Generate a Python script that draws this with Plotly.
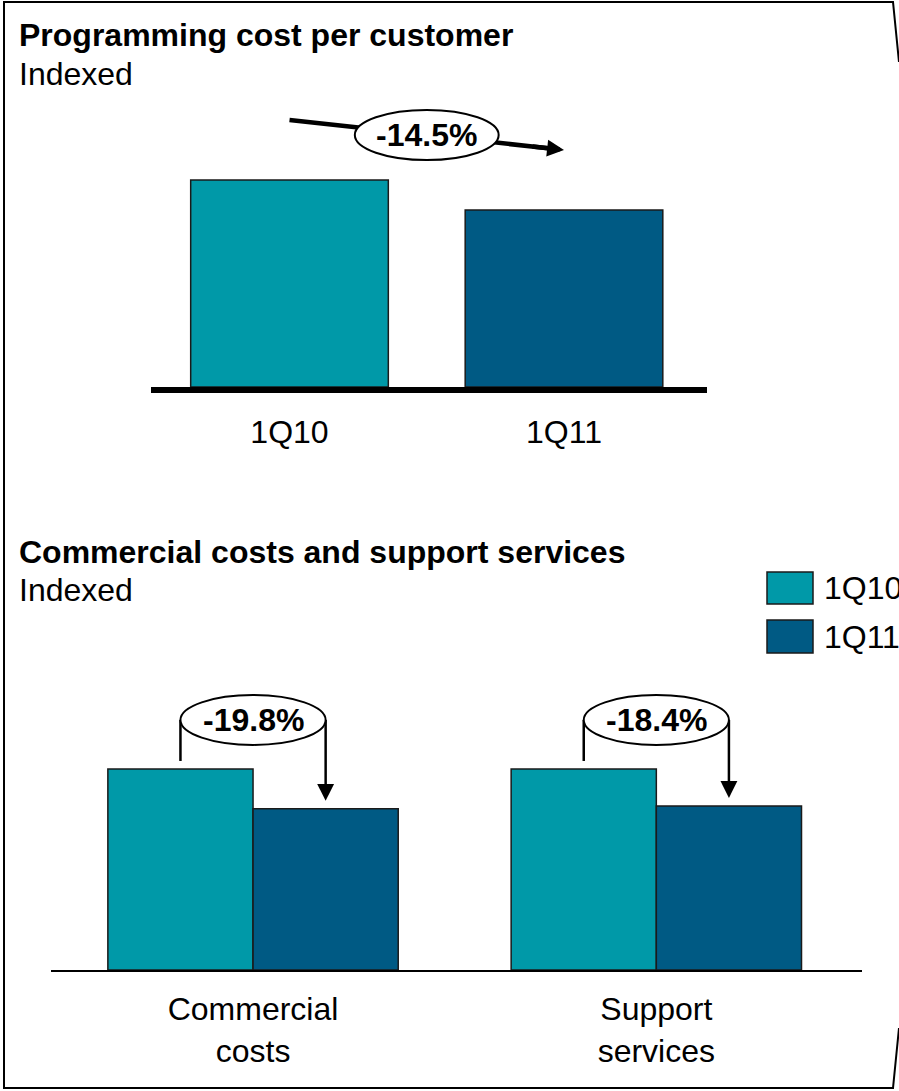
import plotly.graph_objects as go

# ---- data -------------------------------------------------------------
top_categories = ["1Q10", "1Q11"]
top_values = [100.0, 85.5]
top_change = "-14.5%"

groups = ["Commercial<br>costs", "Support<br>services"]
series_names = ["1Q10", "1Q11"]
q10_values = [100.0, 100.0]
q11_values = [80.2, 81.6]
group_changes = ["-19.8%", "-18.4%"]

# ---- styling ------------------------------------------------------------
W, H = 899, 1091
TEAL = "#0099A8"
NAVY = "#005A84"
EDGE = "#1a1a1a"
FONT = "Liberation Sans, Arial, sans-serif"
FS = 32


def px(x):
    return x / W


def py(y):
    return 1 - y / H


fig = go.Figure()

# top panel: single series, one colour per bar
fig.add_trace(go.Bar(
    x=top_categories, y=top_values, xaxis="x", yaxis="y",
    marker=dict(color=[TEAL, NAVY], line=dict(color=EDGE, width=1.5)),
    showlegend=False, hoverinfo="skip",
))

# bottom panel: grouped bars
for name, vals, col in [(series_names[0], q10_values, TEAL),
                        (series_names[1], q11_values, NAVY)]:
    fig.add_trace(go.Bar(
        x=groups, y=vals, name=name, xaxis="x2", yaxis="y2",
        marker=dict(color=col, line=dict(color=EDGE, width=1.5)),
        showlegend=False, hoverinfo="skip",
    ))

BARGAP = 0.28
half_bar = (1 - BARGAP) / 4  # centre offset of each bar inside a group

shapes = []
annotations = []

# outer frame with the bulging right edge
frame = [(899, 62), (893, 2), (4, 2), (4, 1088), (893, 1088), (899, 1028)]
path = "M " + " L ".join(f"{px(x):.5f},{py(y):.5f}" for x, y in frame)
shapes.append(dict(type="path", path=path, xref="paper", yref="paper",
                   line=dict(color="black", width=2)))

# top panel: trend arrow behind the change bubble
lift = 29
y_start = top_values[0] + lift
y_end = top_values[1] + lift
slope = y_end - y_start
shapes.append(dict(type="line", xref="x", yref="y", x0=0, y0=y_start,
                   x1=0.95, y1=y_start + 0.95 * slope,
                   line=dict(color="black", width=4.5), layer="above"))
annotations.append(dict(xref="x", yref="y", axref="x", ayref="y",
                        x=1, y=y_end, ax=0.88, ay=y_start + 0.88 * slope,
                        text="", showarrow=True, arrowhead=2, arrowsize=0.75,
                        arrowwidth=4.5, arrowcolor="black"))
mid_y = (y_start + y_end) / 2
shapes.append(dict(type="circle", xref="x", yref="y",
                   x0=0.5 - 0.262, x1=0.5 + 0.262,
                   y0=mid_y - 12.1, y1=mid_y + 12.1,
                   fillcolor="white", line=dict(color="black", width=2),
                   layer="above"))
annotations.append(dict(xref="x", yref="y", x=0.5, y=mid_y, text=f"<b>{top_change}</b>",
                        showarrow=False, font=dict(family=FONT, size=FS, color="black")))

# bottom panel: change bubbles with drop arrows
for i, (a, b, label) in enumerate(zip(q10_values, q11_values, group_changes)):
    yc = a + 24.4
    xl, xr = i - half_bar, i + half_bar
    shapes.append(dict(type="line", xref="x2", yref="y2", x0=xl, y0=yc, x1=xl, y1=a + 4,
                       line=dict(color="black", width=2.5), layer="above"))
    shapes.append(dict(type="line", xref="x2", yref="y2", x0=xr, y0=yc, x1=xr, y1=b + 9,
                       line=dict(color="black", width=2.5), layer="above"))
    annotations.append(dict(xref="x2", yref="y2", axref="x2", ayref="y2",
                            x=xr, y=b + 4, ax=xr, ay=b + 12,
                            text="", showarrow=True, arrowhead=2, arrowsize=1.35,
                            arrowwidth=2.5, arrowcolor="black"))
    shapes.append(dict(type="circle", xref="x2", yref="y2", x0=xl, x1=xr,
                       y0=yc - 12.4, y1=yc + 12.4, fillcolor="white",
                       line=dict(color="black", width=2), layer="above"))
    annotations.append(dict(xref="x2", yref="y2", x=i, y=yc, text=f"<b>{label}</b>",
                            showarrow=False, font=dict(family=FONT, size=FS, color="black")))

# legend swatches
for (y0, y1), col, name in [((572, 604), TEAL, series_names[0]),
                            ((620, 653), NAVY, series_names[1])]:
    shapes.append(dict(type="rect", xref="paper", yref="paper",
                       x0=px(767), x1=px(813), y0=py(y1), y1=py(y0),
                       fillcolor=col, line=dict(color=EDGE, width=1.5)))
    annotations.append(dict(xref="paper", yref="paper", x=px(822), y=py((y0 + y1) / 2),
                            xanchor="left", yanchor="middle", text=name, showarrow=False,
                            font=dict(family=FONT, size=FS, color="black")))

# panel headings
for text, y in [("<b>Programming cost per customer</b>", 35), ("Indexed", 74),
                ("<b>Commercial costs and support services</b>", 552), ("Indexed", 590)]:
    annotations.append(dict(xref="paper", yref="paper", x=px(17), y=py(y),
                            xanchor="left", yanchor="middle", text=text, showarrow=False,
                            font=dict(family=FONT, size=FS, color="black")))

fig.update_layout(
    width=W, height=H,
    margin=dict(l=0, r=0, t=0, b=0),
    paper_bgcolor="white", plot_bgcolor="white",
    barmode="group", bargap=BARGAP, bargroupgap=0,
    font=dict(family=FONT, size=FS, color="black"),
    xaxis=dict(domain=[px(151), px(707)], anchor="y", range=[-0.5046, 1.521],
               showline=True, linewidth=6, linecolor="black", showgrid=False,
               zeroline=False, ticks="", ticklabelstandoff=12,
               tickfont=dict(family=FONT, size=FS, color="black")),
    yaxis=dict(domain=[py(387), py(100)], anchor="x", range=[0, 138.65],
               visible=False),
    xaxis2=dict(domain=[px(51), px(862)], anchor="y2", range=[-0.501, 1.51],
                showline=True, linewidth=2, linecolor="black", showgrid=False,
                zeroline=False, ticks="", ticklabelstandoff=10,
                tickfont=dict(family=FONT, size=FS, color="black")),
    yaxis2=dict(domain=[py(970), py(680)], anchor="x2", range=[0, 144.28],
                visible=False),
    shapes=shapes,
    annotations=annotations,
)

fig.write_html("out.html")
